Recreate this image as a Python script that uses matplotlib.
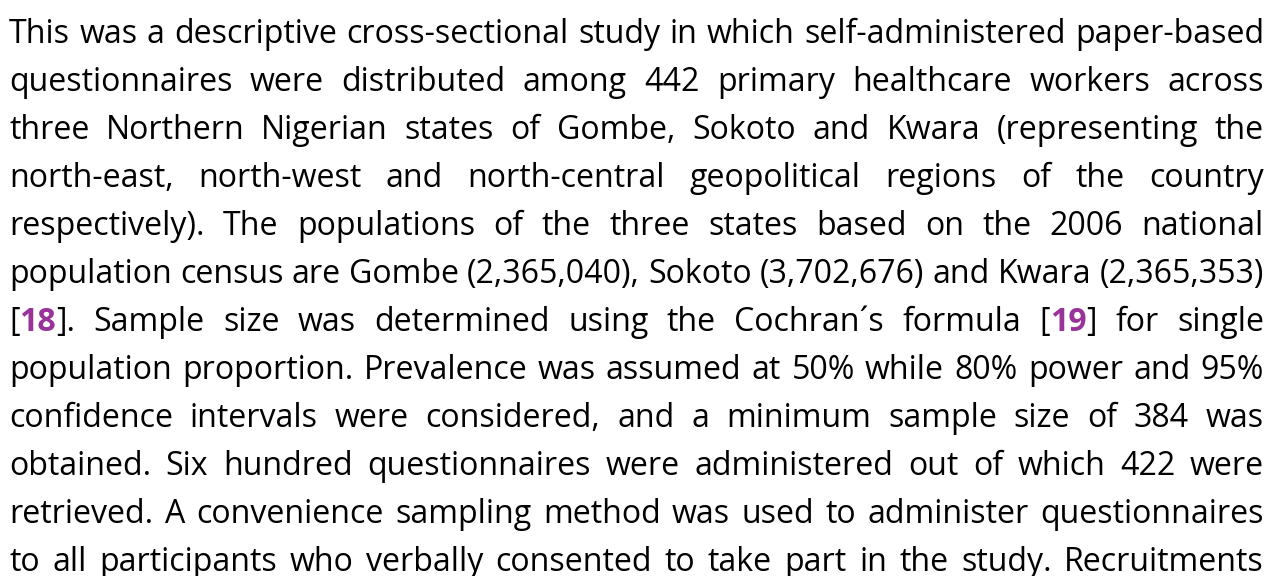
import re
import matplotlib.pyplot as plt

# paragraph text, one entry per rendered line; **x** marks a bold reference link
lines = [
    "This was a descriptive cross-sectional study in which self-administered paper-based",
    "questionnaires were distributed among 442 primary healthcare workers across",
    "three Northern Nigerian states of Gombe, Sokoto and Kwara (representing the",
    "north-east, north-west and north-central geopolitical regions of the country",
    "respectively). The populations of the three states based on the 2006 national",
    "population census are Gombe (2,365,040), Sokoto (3,702,676) and Kwara (2,365,353)",
    "[**18**]. Sample size was determined using the Cochran\u00b4s formula [**19**] for single",
    "population proportion. Prevalence was assumed at 50% while 80% power and 95%",
    "confidence intervals were considered, and a minimum sample size of 384 was",
    "obtained. Six hundred questionnaires were administered out of which 422 were",
    "retrieved. A convenience sampling method was used to administer questionnaires",
    "to all participants who verbally consented to take part in the study. Recruitments",
]

W, H = 1279, 576
left, right = 9, 1264
first_base, line_gap = 43, 48
text_color = "#000000"
link_color = "#993399"

fig = plt.figure(figsize=(W / 100, H / 100), dpi=100)
ax = fig.add_axes([0, 0, 1, 1])
ax.set_xlim(0, W)
ax.set_ylim(H, 0)
ax.axis("off")
renderer = fig.canvas.get_renderer()


def segments(word):
    parts = re.split(r"(\*\*[^*]+\*\*)", word)
    out = []
    for p in parts:
        if not p:
            continue
        if p.startswith("**"):
            out.append((p[2:-2], True))
        else:
            out.append((p, False))
    return out


def seg_width(s, bold, size):
    t = ax.text(0, 0, s, fontsize=size, family="Open Sans",
                fontweight="bold" if bold else "normal")
    w = t.get_window_extent(renderer).width
    t.remove()
    return w


def word_width(word, size):
    return sum(seg_width(s, b, size) for s, b in segments(word))


# calibrate the font size on the tightest line
base_size = 20
space_w = seg_width("a a", False, base_size) - 2 * seg_width("a", False, base_size)
scale = min(
    (right - left) / (sum(word_width(w, base_size) for w in ln.split()) + space_w * (len(ln.split()) - 1))
    for ln in lines
)
size = base_size * scale

for i, ln in enumerate(lines):
    words = ln.split()
    widths = [word_width(w, size) for w in words]
    gap = (right - left - sum(widths)) / (len(words) - 1)
    y = first_base + i * line_gap
    x = left
    for w, ww in zip(words, widths):
        xs = x
        for s, b in segments(w):
            ax.text(xs, y, s, fontsize=size, family="Open Sans",
                    fontweight="bold" if b else "normal",
                    color=link_color if b else text_color,
                    ha="left", va="baseline")
            xs += seg_width(s, b, size)
        x += ww + gap

fig.savefig("out.png", dpi=100)
